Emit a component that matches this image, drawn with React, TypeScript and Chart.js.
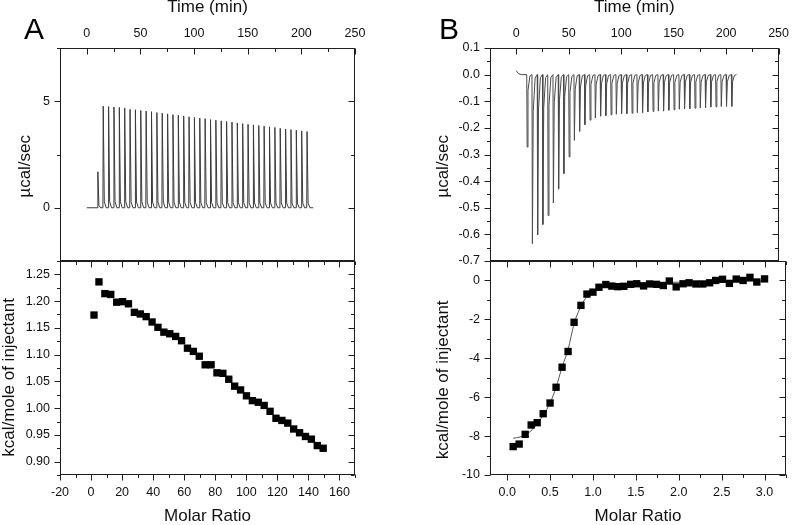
import React, { useEffect, useRef } from 'react';
import { Chart, registerables } from 'chart.js';

Chart.register(...registerables);

const FONT = "'Liberation Sans', Arial, Helvetica, sans-serif";
Chart.defaults.font.family = FONT;

// ---------- Panel A (raw thermogram) ----------
const injTimes = [10, 15, 20, 25, 30, 35, 40, 45, 50, 55, 60, 65, 70, 75, 80, 85, 90, 95, 100, 105,
  110, 115, 120, 125, 130, 135, 140, 145, 150, 155, 160, 165, 170, 175, 180, 185, 190, 195, 200, 205];
const peaksA = [1.69, 4.77, 4.75, 4.73, 4.71, 4.69, 4.62, 4.60, 4.57, 4.54, 4.51, 4.47, 4.44, 4.41, 4.37, 4.34,
  4.31, 4.27, 4.24, 4.21, 4.18, 4.14, 4.11, 4.08, 4.05, 4.02, 3.98, 3.95, 3.92, 3.89, 3.86, 3.83, 3.80, 3.77,
  3.73, 3.70, 3.67, 3.64, 3.61, 3.58];
const runEndA = 211;

// ---------- Panel A (integrated heats) ----------
const molarA = [1.9, 5.1, 8.9, 12.7, 16.5, 20.3, 24.1, 27.9, 31.7, 35.5, 39.3, 43.1, 46.9, 50.7, 54.5, 58.3,
  62.1, 65.9, 69.7, 73.5, 77.3, 81.1, 84.9, 88.7, 92.5, 96.3, 100.1, 103.9, 107.7, 111.5, 115.3, 119.1, 122.9,
  126.7, 130.5, 134.3, 138.1, 141.9, 145.7, 149.5];
const heatA = [1.174, 1.236, 1.214, 1.2125, 1.198, 1.199, 1.195, 1.179, 1.176, 1.171, 1.161, 1.151, 1.142, 1.139,
  1.134, 1.126, 1.112, 1.106, 1.097, 1.081, 1.081, 1.066, 1.065, 1.054, 1.041, 1.034, 1.023, 1.014, 1.011, 1.005,
  0.994, 0.981, 0.977, 0.972, 0.961, 0.954, 0.947, 0.942, 0.930, 0.925];

// ---------- Panel B (raw thermogram) ----------
const peaksB = [-0.272, -0.635, -0.602, -0.563, -0.529, -0.482, -0.430, -0.372, -0.309, -0.247, -0.213, -0.188,
  -0.171, -0.163, -0.156, -0.154, -0.151, -0.149, -0.147, -0.147, -0.145, -0.143, -0.143, -0.140, -0.138, -0.137,
  -0.137, -0.134, -0.132, -0.130, -0.128, -0.128, -0.126, -0.125, -0.124, -0.122, -0.121, -0.120, -0.119, -0.119];
const startTimeB = [0, 1, 2.5, 5];
const startSignalB = [0.015, 0.009, 0.003, 0];
const runEndB = 210;

// ---------- Panel B (integrated heats + fit) ----------
const molarB = [0.07, 0.14, 0.21, 0.28, 0.35, 0.42, 0.50, 0.57, 0.64, 0.71, 0.78, 0.86, 0.93, 1.00, 1.07, 1.15,
  1.22, 1.29, 1.36, 1.44, 1.51, 1.59, 1.66, 1.74, 1.82, 1.89, 1.97, 2.05, 2.12, 2.20, 2.28, 2.36, 2.43, 2.51,
  2.59, 2.67, 2.75, 2.83, 2.91, 3.00];
const heatB = [-8.54, -8.41, -7.91, -7.43, -7.31, -6.85, -6.30, -5.49, -4.46, -3.65, -2.15, -1.28, -0.70, -0.60,
  -0.35, -0.21, -0.29, -0.32, -0.30, -0.20, -0.17, -0.28, -0.18, -0.20, -0.26, -0.03, -0.33, -0.17, -0.12, -0.18,
  -0.18, -0.12, 0.0, 0.06, -0.15, 0.07, 0.0, 0.16, -0.08, 0.08];
const fitX = [0.07, 0.15, 0.21, 0.29, 0.35, 0.42, 0.50, 0.57, 0.64, 0.71, 0.78, 0.86, 0.93, 1.02, 1.14, 1.30,
  1.50, 2.00, 2.50, 3.00];
const fitY = [-8.11, -8.05, -7.94, -7.68, -7.36, -6.92, -6.30, -5.50, -4.45, -3.55, -2.22, -1.33, -0.82, -0.48,
  -0.29, -0.19, -0.14, -0.09, -0.06, -0.04];

// ---------- Tick values ----------
const timeMajor = [0, 50, 100, 150, 200, 250];
const timeMinor = [-25, 25, 75, 125, 175, 225];
const aTopYMajor = [0, 5];
const aTopYMinor = [-2.5, 2.5, 7.5];
const aBotXMajor = [-20, 0, 20, 40, 60, 80, 100, 120, 140, 160];
const aBotXMinor = [-10, 10, 30, 50, 70, 90, 110, 130, 150, 170];
const aBotYMajor = [0.90, 0.95, 1.00, 1.05, 1.10, 1.15, 1.20, 1.25];
const aBotYMinor = [0.875, 0.925, 0.975, 1.025, 1.075, 1.125, 1.175, 1.225, 1.275];
const bTopYMajor = [0.1, 0.0, -0.1, -0.2, -0.3, -0.4, -0.5, -0.6, -0.7];
const bTopYMinor = [0.05, -0.05, -0.15, -0.25, -0.35, -0.45, -0.55, -0.65];
const bBotXMajor = [0, 0.5, 1.0, 1.5, 2.0, 2.5, 3.0];
const bBotXMinor = [0.25, 0.75, 1.25, 1.75, 2.25, 2.75, 3.25];
const bBotYMajor = [0, -2, -4, -6, -8, -10];
const bBotYMinor = [1, -1, -3, -5, -7, -9];

// ---------- Build traces from the injection tables ----------
function traceA() {
  const pts: { x: number; y: number }[] = [{ x: 0, y: 0 }];
  injTimes.forEach((t, i) => {
    const p = peaksA[i];
    pts.push({ x: t, y: 0 }, { x: t + 0.3, y: p }, { x: t + 1.3, y: p * 0.06 }, { x: t + 3, y: 0 });
  });
  pts.push({ x: runEndA, y: 0 });
  return pts;
}
function traceB() {
  const pts: { x: number; y: number }[] = startTimeB.map((t, i) => ({ x: t, y: startSignalB[i] }));
  injTimes.forEach((t, i) => {
    const p = peaksB[i];
    pts.push({ x: t, y: 0 }, { x: t + 0.4, y: p }, { x: t + 1.2, y: p * 0.22 }, { x: t + 3, y: p * 0.02 });
  });
  pts.push({ x: runEndB, y: 0 });
  return pts;
}

// ---------- Frame + inward / outward ticks ----------
const frameTicks = {
  id: 'frameTicks',
  afterDraw(chart: any, _args: any, opts: any) {
    const { ctx, chartArea } = chart;
    const xs = chart.scales.x;
    const ys = chart.scales.y;
    const L = Math.round(chartArea.left) + 0.5;
    const R = Math.round(chartArea.right) - 0.5;
    const T = Math.round(chartArea.top) + 0.5;
    const B = Math.round(chartArea.bottom) - 0.5;
    ctx.save();
    ctx.strokeStyle = '#1e1e1e';
    ctx.lineWidth = 1;
    ctx.beginPath();
    const seg = (x1: number, y1: number, x2: number, y2: number) => { ctx.moveTo(x1, y1); ctx.lineTo(x2, y2); };
    const eps = 1e-9;
    const doX = (vals: number[], len: number) => vals.forEach((v) => {
      if (v < xs.min - eps || v > xs.max + eps) return;
      const px = Math.round(xs.getPixelForValue(v)) + 0.5;
      if (opts.xBottom === 'out') seg(px, B, px, B + len);
      if (opts.xTop === 'in') seg(px, T, px, T + len);
    });
    const doY = (vals: number[], len: number) => vals.forEach((v) => {
      if (v < ys.min - eps || v > ys.max + eps) return;
      const py = Math.round(ys.getPixelForValue(v)) + 0.5;
      seg(L - len, py, L, py);
      seg(R - len, py, R, py);
    });
    doX(opts.xMajor, 6);
    doX(opts.xMinor, 3.5);
    doY(opts.yMajor, 6);
    doY(opts.yMinor, 3.5);
    ctx.stroke();
    ctx.strokeRect(L, T, R - L, B - T);
    ctx.restore();
  },
};

const tickFont = { family: FONT, size: 12.5 };
const titleFont = { family: FONT, size: 17, lineHeight: 1 };

function makeConfig(p: any): any {
  return {
    type: 'scatter',
    data: { datasets: p.datasets },
    plugins: [frameTicks],
    options: {
      animation: false,
      responsive: false,
      maintainAspectRatio: false,
      events: [],
      layout: { padding: p.padding },
      plugins: {
        legend: { display: false },
        tooltip: { enabled: false },
        frameTicks: { xMajor: p.xMajor, xMinor: p.xMinor, yMajor: p.yMajor, yMinor: p.yMinor, xBottom: p.xBottom, xTop: p.xTop },
      },
      scales: {
        x: {
          type: 'linear',
          position: p.xPos,
          min: p.xMin,
          max: p.xMax,
          grid: { display: false, drawTicks: false },
          border: { display: false },
          afterBuildTicks: (s: any) => { s.ticks = p.xMajor.map((v: number) => ({ value: v })); },
          afterFit: (s: any) => { s.height = p.xHeight; },
          ticks: { font: tickFont, color: '#111', padding: p.xPad, maxRotation: 0, autoSkip: false, callback: (v: any) => p.xLabel(Number(v)) },
          title: { display: true, text: p.xTitle, font: titleFont, color: '#111', padding: p.xTitlePad },
        },
        y: {
          type: 'linear',
          position: 'left',
          min: p.yMin,
          max: p.yMax,
          grid: { display: false, drawTicks: false },
          border: { display: false },
          afterBuildTicks: (s: any) => { s.ticks = p.yMajor.map((v: number) => ({ value: v })); },
          afterFit: (s: any) => { s.width = p.yWidth; },
          ticks: { font: tickFont, color: '#111', padding: 10, autoSkip: false, callback: (v: any) => p.yLabel(Number(v)) },
          title: { display: true, text: p.yTitle, font: titleFont, color: '#111', padding: { top: p.yTitlePad, bottom: 0 } },
        },
      },
    },
  };
}

function ChartBox({ left, top, width, height, config }: any) {
  const ref = useRef<HTMLCanvasElement>(null);
  useEffect(() => {
    const chart = new Chart(ref.current as HTMLCanvasElement, config);
    return () => chart.destroy();
  }, []);
  return (
    <canvas
      ref={ref}
      width={width}
      height={height}
      style={{ position: 'absolute', left, top, width, height, display: 'block' }}
    />
  );
}

const intLabel = (v: number) => String(Math.round(v));
const fix1 = (v: number) => (Math.abs(v) < 1e-9 ? '0.0' : v.toFixed(1));
const fix2 = (v: number) => v.toFixed(2);

const rawLine = (data: any[], color: string) => ({
  data,
  showLine: true,
  borderColor: color,
  borderWidth: 1,
  pointRadius: 0,
  tension: 0,
});
const squares = (xs: number[], ys: number[]) => ({
  data: xs.map((x, i) => ({ x, y: ys[i] })),
  showLine: false,
  pointStyle: 'rect',
  pointRadius: 5.2,
  borderWidth: 0,
  backgroundColor: '#000',
  borderColor: '#000',
  order: 1,
});

// trailing spaces nudge the rotated titles slightly below the plot centre, as in the original
const PAD4 = '    ';
const PAD5 = '     ';

// Canvas geometry: top panels end at y=261, bottom panels start at y=261
const TOP_H = 279;
const BOT_TOP = 243;
const BOT_H = 525 - BOT_TOP;

export default function App() {
  const aTop = makeConfig({
    datasets: [rawLine(traceA(), '#3a3a3a')],
    padding: { left: 0, right: 45, top: 0, bottom: 18 },
    xPos: 'top', xMin: -25, xMax: 250, xMajor: timeMajor, xMinor: timeMinor, xLabel: intLabel,
    xTitle: 'Time (min)', xHeight: 48, xPad: 7, xTitlePad: { top: -1, bottom: 0 }, xBottom: 'none', xTop: 'in',
    yMin: -2.5, yMax: 7.5, yMajor: aTopYMajor, yMinor: aTopYMinor, yLabel: intLabel,
    yTitle: 'µcal/sec' + PAD5, yWidth: 60, yTitlePad: 16.5,
  });
  const aBot = makeConfig({
    datasets: [squares(molarA, heatA)],
    padding: { left: 0, right: 45, top: 18, bottom: 0 },
    xPos: 'bottom', xMin: -20, xMax: 170, xMajor: aBotXMajor, xMinor: aBotXMinor, xLabel: intLabel,
    xTitle: 'Molar Ratio', xHeight: 50, xPad: 10, xTitlePad: { top: 0, bottom: 0 }, xBottom: 'out', xTop: 'in',
    yMin: 0.875, yMax: 1.275, yMajor: aBotYMajor, yMinor: aBotYMinor, yLabel: fix2,
    yTitle: 'kcal/mole of injectant' + PAD4, yWidth: 60, yTitlePad: 0.5,
  });
  const bTop = makeConfig({
    datasets: [rawLine(traceB(), '#4a4a4a')],
    padding: { left: 0, right: 10, top: 0, bottom: 18 },
    xPos: 'top', xMin: -25, xMax: 250, xMajor: timeMajor, xMinor: timeMinor, xLabel: intLabel,
    xTitle: 'Time (min)', xHeight: 48, xPad: 7, xTitlePad: { top: -1, bottom: 0 }, xBottom: 'none', xTop: 'in',
    yMin: -0.7, yMax: 0.1, yMajor: bTopYMajor, yMinor: bTopYMinor, yLabel: fix1,
    yTitle: 'µcal/sec' + PAD5, yWidth: 90, yTitlePad: 34.8,
  });
  const bBot = makeConfig({
    datasets: [
      squares(molarB, heatB),
      {
        data: fitX.map((x, i) => ({ x, y: fitY[i] })),
        showLine: true,
        borderColor: '#555',
        borderWidth: 1,
        pointRadius: 0,
        cubicInterpolationMode: 'monotone',
        order: 2,
      },
    ],
    padding: { left: 0, right: 10, top: 18, bottom: 0 },
    xPos: 'bottom', xMin: -0.2, xMax: 3.25, xMajor: bBotXMajor, xMinor: bBotXMinor, xLabel: fix1,
    xTitle: 'Molar Ratio', xHeight: 50, xPad: 10, xTitlePad: { top: 0, bottom: 0 }, xBottom: 'out', xTop: 'in',
    yMin: -10, yMax: 1, yMajor: bBotYMajor, yMinor: bBotYMinor, yLabel: intLabel,
    yTitle: 'kcal/mole of injectant' + PAD5, yWidth: 90, yTitlePad: 34.8,
  });

  const letter: React.CSSProperties = {
    position: 'absolute',
    fontFamily: FONT,
    fontSize: 30,
    lineHeight: '30px',
    color: '#000',
  };

  return (
    <div style={{ position: 'absolute', left: 0, top: 0, width: 796, height: 525, background: '#fff', overflow: 'hidden' }}>
      <ChartBox left={0} top={0} width={400} height={TOP_H} config={aTop} />
      <ChartBox left={0} top={BOT_TOP} width={400} height={BOT_H} config={aBot} />
      <ChartBox left={400} top={0} width={396} height={TOP_H} config={bTop} />
      <ChartBox left={400} top={BOT_TOP} width={396} height={BOT_H} config={bBot} />
      <div style={{ ...letter, left: 24, top: 14 }}>A</div>
      <div style={{ ...letter, left: 439, top: 14 }}>B</div>
    </div>
  );
}
